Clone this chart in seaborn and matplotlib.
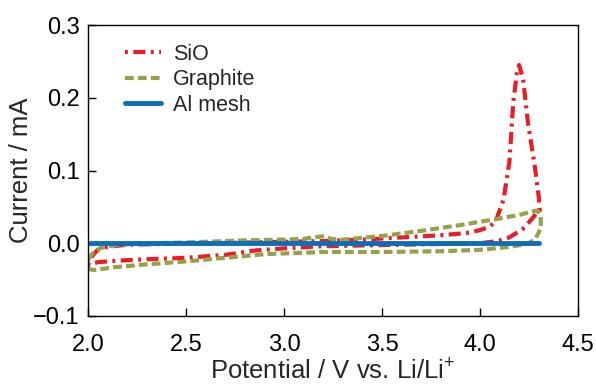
import numpy as np
import pandas as pd
import matplotlib
matplotlib.use("Agg")
import matplotlib.pyplot as plt
import seaborn as sns

# CV loops (potential in V, current in mA)
sio_potential = [2.00, 2.02, 2.05, 2.10, 2.20, 2.40, 2.60, 2.80, 3.00, 3.20, 3.40, 3.60,
                 3.80, 3.93, 4.00, 4.05, 4.08, 4.12, 4.15, 4.17, 4.19, 4.20, 4.22, 4.245,
                 4.28, 4.30, 4.305,
                 4.29, 4.27, 4.22, 4.15, 4.09, 4.00, 3.60, 3.20, 3.00, 2.85, 2.70, 2.50,
                 2.30, 2.15, 2.05, 2.00]
sio_current = [-0.030, -0.018, -0.009, -0.005, -0.002, -0.001, 0.000, 0.001, 0.002, 0.003,
               0.005, 0.008, 0.011, 0.014, 0.018, 0.023, 0.030, 0.060, 0.112, 0.195, 0.238,
               0.245, 0.225, 0.165, 0.105, 0.063, 0.045,
               0.042, 0.035, 0.020, 0.008, 0.003, 0.000, -0.002, -0.004, -0.007, -0.010,
               -0.016, -0.020, -0.022, -0.024, -0.026, -0.030]

graphite_potential = [2.00, 2.03, 2.06, 2.10, 2.16, 2.30, 2.50, 2.80, 3.00, 3.10, 3.18,
                      3.21, 3.24, 3.30, 3.50, 3.70, 3.90, 4.10, 4.20, 4.29,
                      4.31, 4.31, 4.28, 4.24, 4.15, 4.00, 3.80, 3.50, 3.20, 2.90, 2.70,
                      2.50, 2.30, 2.13, 2.03, 2.00, 2.00]
graphite_current = [-0.022, -0.012, -0.007, -0.004, -0.002, 0.000, 0.001, 0.004, 0.005,
                    0.006, 0.009, 0.010, 0.006, 0.005, 0.010, 0.017, 0.025, 0.034, 0.039,
                    0.045,
                    0.038, 0.020, 0.005, -0.001, -0.005, -0.009, -0.011, -0.012, -0.012,
                    -0.015, -0.020, -0.025, -0.029, -0.033, -0.037, -0.035, -0.022]

al_potential = [2.00, 2.50, 3.00, 3.50, 4.00, 4.30]
al_current = [0.0, 0.0, 0.0, 0.0, 0.0, 0.0]

series = ["SiO", "Graphite", "Al mesh"]
colors = {"SiO": "#ED1C24", "Graphite": "#98A048", "Al mesh": "#0A6EB8"}

x_ticks = [2.0, 2.5, 3.0, 3.5, 4.0, 4.5]
y_ticks = [-0.1, 0.0, 0.1, 0.2, 0.3]

sns.set_style("ticks")
plt.rcParams['font.family'] = ['Liberation Sans', 'DejaVu Sans']
plt.rcParams['mathtext.fontset'] = 'custom'
plt.rcParams['mathtext.rm'] = 'Liberation Sans'

fig = plt.figure(figsize=(5.96, 3.85), dpi=100)
ax = fig.add_axes([88 / 596, 1 - 316 / 385, 490 / 596, 291 / 385])

frames = {
    "SiO": pd.DataFrame({"Potential": sio_potential, "Current": sio_current}),
    "Graphite": pd.DataFrame({"Potential": graphite_potential, "Current": graphite_current}),
    "Al mesh": pd.DataFrame({"Potential": al_potential, "Current": al_current}),
}
styles = {
    "SiO": dict(linewidth=3.0, linestyle=(0, (0.7, 1.3, 2.9, 1.3))),
    "Graphite": dict(linewidth=3.0, linestyle=(0, (2.1, 1.0))),
    "Al mesh": dict(linewidth=3.5, linestyle="-"),
}

for name in series:
    sns.lineplot(data=frames[name], x="Potential", y="Current", sort=False,
                 estimator=None, color=colors[name], label=name, ax=ax,
                 **styles[name])

ax.set_xlim(2.0, 4.5)
ax.set_ylim(-0.1, 0.3)
ax.set_xticks(x_ticks)
ax.set_yticks(y_ticks)
ax.set_xticklabels([f"{t:.1f}" for t in x_ticks])
ax.set_yticklabels([f"{t:.1f}".replace("-", "\u2212") for t in y_ticks])
ax.tick_params(axis="both", direction="in", length=6, width=1, labelsize=17, colors="black")
ax.tick_params(axis="x", pad=13)
ax.tick_params(axis="y", pad=6)
for sp in ax.spines.values():
    sp.set_linewidth(1.0)
    sp.set_color("black")

ax.set_xlabel("Potential / V vs. Li/Li$^{+}$", fontsize=18.5, labelpad=1)
ax.set_ylabel("Current / mA", fontsize=18.5, labelpad=0)

ax.legend(loc="upper left", bbox_to_anchor=(0.075, 0.935), frameon=False,
          fontsize=15.5, handlelength=1.7, handletextpad=0.55, labelspacing=0.2,
          borderaxespad=0, borderpad=0)

fig.savefig("out.png", dpi=100)
